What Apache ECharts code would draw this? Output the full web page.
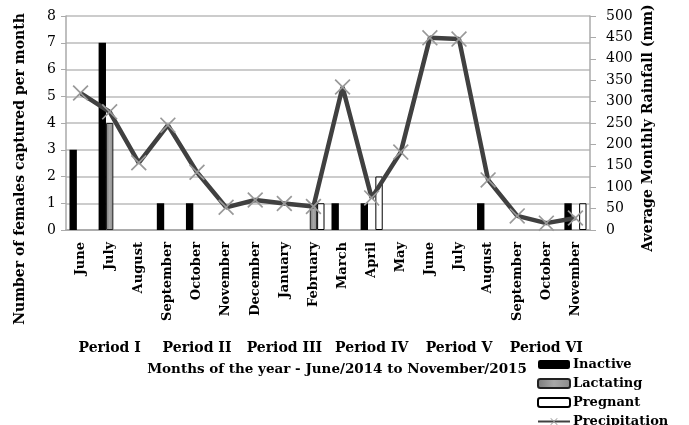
<!DOCTYPE html>
<html><head><meta charset="utf-8">
<script src="https://cdn.jsdelivr.net/npm/echarts@6/dist/echarts.min.js"></script>
<style>html,body{margin:0;padding:0;background:#fff}#c{width:689px;height:425px}</style>
</head><body><div id="c"></div>
<script>
const months = ['June','July','August','September','October','November','December','January','February','March','April','May','June','July','August','September','October','November'];
const periods = ['Period I','Period II','Period III','Period IV','Period V','Period VI'];
const inactive  = [3,7,0,1,1,0,0,0,0,1,1,0,0,0,1,0,0,1];
const lactating = [0,4,0,0,0,0,0,0,1,0,0,0,0,0,0,0,0,0];
const pregnant  = [0,0,0,0,0,0,0,0,1,0,2,0,0,0,0,0,0,1];
const precipitation = [320,276,157,245,135,53,70,62,55,334,75,182,449,446,117,33,16,28];
const leftTicks = [0,8,1];
const rightTicks = [0,500,50];

const noZero = a => a.map(v => v === 0 ? null : v);
const FONT = 'DejaVu Serif';
const X = 'path://M0,1.5L1.5,0L10,8.5L18.5,0L20,1.5L11.5,10L20,18.5L18.5,20L10,11.5L1.5,20L0,18.5L8.5,10Z';
const chart = echarts.init(document.getElementById('c'), null, {renderer:'canvas'});
chart.setOption({
  animation:false,
  textStyle:{fontFamily:FONT},
  grid:{left:66,right:99,top:16,bottom:195},
  legend:{
    orient:'vertical', left:537, top:357, height:90, padding:0, itemWidth:32, itemHeight:9, itemGap:4,
    textStyle:{fontFamily:FONT,fontWeight:'bold',fontSize:13,lineHeight:15,color:'#000',padding:[0,0,0,-2]},
    data:['Inactive','Lactating','Pregnant','Precipitation']
  },
  xAxis:[{
    type:'category', data:months, position:'bottom',
    axisLine:{lineStyle:{color:'#aaa',width:1.5}},
    axisTick:{length:97,lineStyle:{color:'#aaa',width:1.5}},
    axisLabel:{rotate:90,margin:12,fontFamily:FONT,fontWeight:'bold',fontSize:13,color:'#000',interval:0}
  },{
    type:'category', data:periods, position:'bottom',
    axisLine:{lineStyle:{color:'#aaa',width:1.5}},
    axisTick:{length:127,lineStyle:{color:'#aaa',width:1.5}},
    axisLabel:{margin:111,fontFamily:FONT,fontWeight:'bold',fontSize:14,color:'#000',interval:0}
  }],
  yAxis:[{
    type:'value', min:leftTicks[0], max:leftTicks[1], interval:leftTicks[2],
    axisLine:{show:true,lineStyle:{color:'#aaa',width:1.5}},
    axisTick:{show:true,length:5,lineStyle:{color:'#aaa'}},
    splitLine:{lineStyle:{color:'#bbb',width:1.5}},
    axisLabel:{margin:10,fontFamily:FONT,fontSize:14,color:'#000'}
  },{
    type:'value', min:rightTicks[0], max:rightTicks[1], interval:rightTicks[2],
    axisLine:{show:true,lineStyle:{color:'#aaa',width:1.5}},
    axisTick:{show:true,length:6,lineStyle:{color:'#aaa'}},
    splitLine:{show:false},
    axisLabel:{margin:16,fontFamily:FONT,fontSize:14,color:'#000'}
  }],
  series:[
    {name:'Inactive',type:'bar',data:noZero(inactive),barGap:'0%',barCategoryGap:'24%',
     itemStyle:{color:'#000'}},
    {name:'Lactating',type:'bar',data:noZero(lactating),
     itemStyle:{color:new echarts.graphic.LinearGradient(0,0,1,0,[{offset:0,color:'#7a7a7a'},{offset:0.5,color:'#a8a8a8'},{offset:1,color:'#8a8a8a'}]),borderColor:'#222',borderWidth:1}},
    {name:'Pregnant',type:'bar',data:noZero(pregnant),
     itemStyle:{color:'#fff',borderColor:'#000',borderWidth:1}},
    {name:'Precipitation',type:'line',yAxisIndex:1,data:precipitation,z:5,
     symbol:X,symbolSize:16,showAllSymbol:true,
     lineStyle:{color:'#404040',width:4.5},
     itemStyle:{color:'#999'}}
  ],
  graphic:[
    {type:'text',x:20,y:169,rotation:Math.PI/2,
     style:{text:'Number of females captured per month',fontFamily:FONT,fontWeight:'bold',fontSize:14,fill:'#000',align:'center',verticalAlign:'middle'}},
    {type:'text',x:648,y:128,rotation:Math.PI/2,
     style:{text:'Average Monthly Rainfall (mm)',fontFamily:FONT,fontWeight:'bold',fontSize:14,fill:'#000',align:'center',verticalAlign:'middle'}},
    {type:'text',x:337,y:369,
     style:{text:'Months of the year - June/2014 to November/2015',fontFamily:FONT,fontWeight:'bold',fontSize:13.5,fill:'#000',align:'center',verticalAlign:'middle'}}
  ]
});
</script></body></html>
